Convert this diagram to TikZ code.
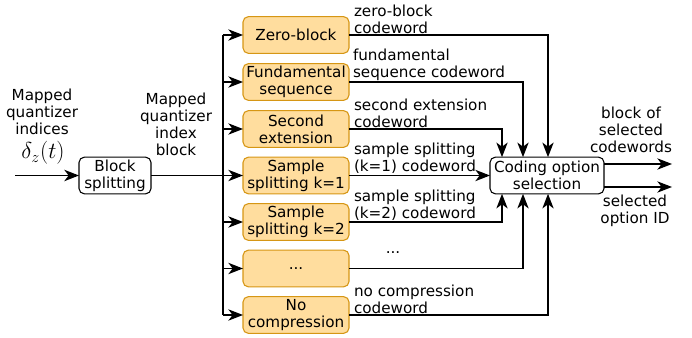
\documentclass[tikz,border=0pt]{standalone}
\usepackage{fontspec}
\setmainfont{DejaVu Sans}
\usetikzlibrary{arrows.meta,calc}
\definecolor{optfill}{RGB}{255,221,158}
\definecolor{optdraw}{RGB}{214,150,20}
\begin{document}
\begin{tikzpicture}[x=0.75pt,y=-0.75pt,
  font=\fontsize{11.4}{12.8}\selectfont,
  every node/.style={inner sep=0pt, outer sep=0pt},
  optbox/.style={draw=optdraw, fill=optfill, line width=0.8pt, rounded corners=4pt,
    minimum width=79.5pt, minimum height=27.5pt, align=center},
  whitebox/.style={draw=black, fill=white, line width=0.8pt, rounded corners=4pt,
    minimum height=27.5pt, align=center},
  lbl/.style={align=left, anchor=south west},
  txt/.style={align=center},
  conn/.style={draw=black, line width=0.95pt, -{Stealth[length=11pt,width=8.5pt,inset=3.2pt]}},
  wire/.style={draw=black, line width=1.3pt}]
\useasboundingbox (0,0) rectangle (692,338);

% splitting stage
\node[whitebox, minimum width=54pt] (split) at (115,175.5) {Block\\splitting};
\coordinate (in) at (15,175.5);
\coordinate (bustop) at (223,35);
\coordinate (busbot) at (223,315);
\draw[wire] (bustop) -- (busbot);
\draw[conn, line width=1.2pt] (in) -- (split.west);
\draw[wire] (split.east) -- (split.east -| bustop);

\node[txt] (inlbl) at (42,112) {Mapped\\quantizer\\indices};
\node (delta) at (43,153) {\fontsize{18}{20}\selectfont$\delta_z(t)$};
\node[txt] (blklbl) at (176,124) {Mapped\\quantizer\\index\\block};

% coding options
\node[optbox] (zb) at (296,35) {Zero-block};
\node[optbox] (fs) at (296,82) {Fundamental\\sequence};
\node[optbox] (se) at (296,129) {Second\\extension};
\node[optbox] (s1) at (296,175.5) {Sample\\splitting k=1};
\node[optbox] (s2) at (296,222) {Sample\\splitting k=2};
\node[optbox] (dt) at (296,268.5) {...};
\node[optbox] (nc) at (296,315) {No\\compression};

\foreach \b in {zb,fs,se,s1,s2,dt,nc}
  \draw[conn] (\b.west -| bustop) -- (\b.west);

% selection stage
\node[whitebox, minimum width=85.5pt] (sel) at (547,175.5) {Coding option\\selection};
\coordinate (ta) at ($(sel.north west)+(12,0)$);
\coordinate (tb) at ($(sel.north west)+(33,0)$);
\coordinate (tc) at ($(sel.north west)+(58,0)$);
\coordinate (ba) at ($(sel.south west)+(12,0)$);
\coordinate (bb) at ($(sel.south west)+(33,0)$);
\coordinate (bc) at ($(sel.south west)+(58,0)$);

\draw[conn] (zb.east) -| (tc);
\draw[conn] (fs.east) -| (tb);
\draw[conn] (se.east) -| (ta);
\draw[conn] (s1.east) -- (sel.west);
\draw[conn] (s2.east) -| (ba);
\draw[conn] (dt.east) -| (bb);
\draw[conn] (nc.east) -| (bc);

\node[lbl] at ($(zb.east)+(5,-1.5)$) {zero-block\\codeword};
\node[lbl] at ($(fs.east)+(4,-1.5)$) {fundamental\\sequence codeword};
\node[lbl] at ($(se.east)+(5,-1.5)$) {second extension\\codeword};
\node[lbl] at ($(s1.east)+(5,-1.5)$) {sample splitting\\(k=1) codeword};
\node[lbl] at ($(s2.east)+(5,-1.5)$) {sample splitting\\(k=2) codeword};
\node (dotlbl) at (393,253) {...};
\node[lbl] at ($(nc.east)+(5,-1.5)$) {no compression\\codeword};

% outputs
\coordinate (o1) at (672,164);
\coordinate (o2) at (672,187);
\draw[conn] (sel.east |- o1) -- (o1);
\draw[conn] (sel.east |- o2) -- (o2);
\node[txt] (outa) at (631,130) {block of\\selected\\codewords};
\node[txt] (outb) at (635,211) {selected\\option ID};
\end{tikzpicture}
\end{document}
